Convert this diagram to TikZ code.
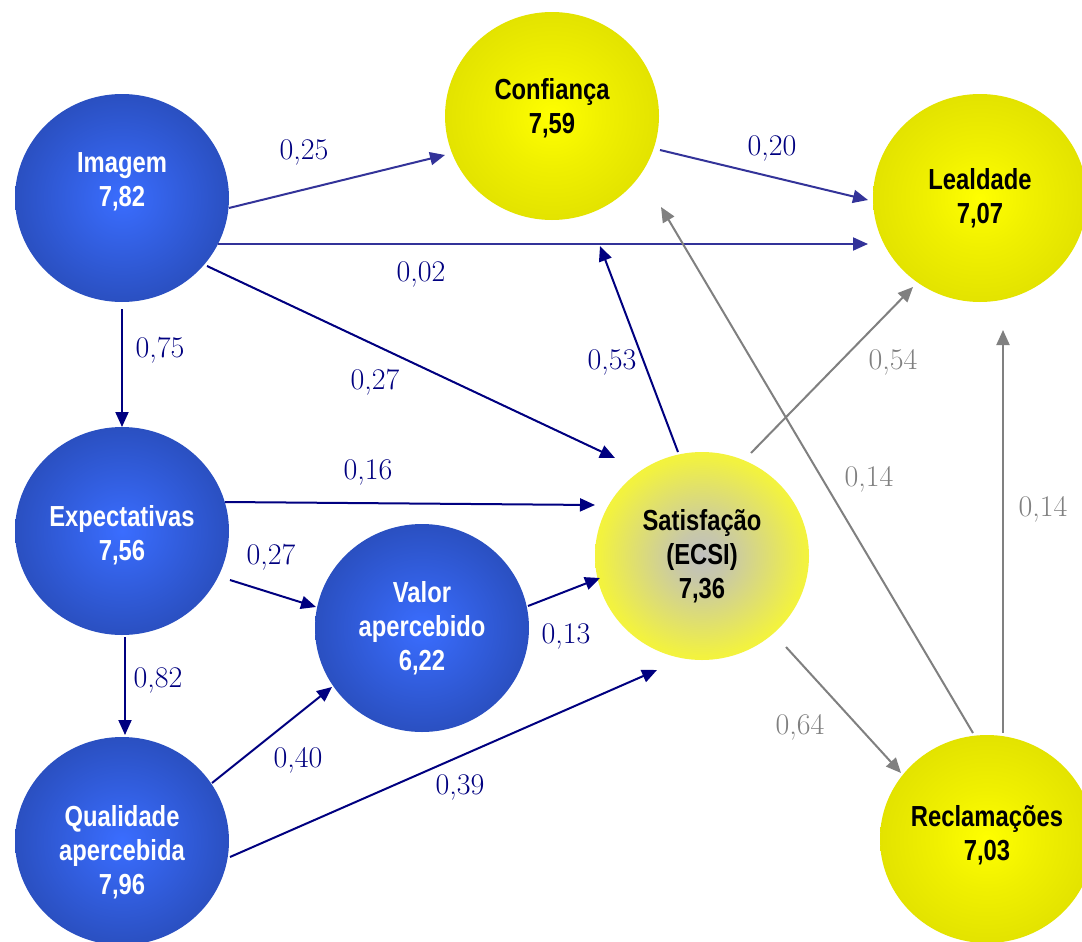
\documentclass[tikz,border=0pt]{standalone}
\usepackage{fontspec}
\newfontfamily\nodefont[FakeStretch=0.82]{Liberation Sans}
\usetikzlibrary{arrows.meta,calc,shapes.geometric}
\definecolor{navyc}{HTML}{000080}
\definecolor{midblue}{HTML}{333399}
\definecolor{grayc}{HTML}{808080}
\definecolor{bluein}{HTML}{3A6DFF}
\definecolor{blueout}{HTML}{2444A8}
\definecolor{yelin}{HTML}{FFFF00}
\definecolor{yelmid}{HTML}{F0F000}
\definecolor{yelout}{HTML}{E0E000}
\definecolor{satin}{HTML}{C0C0C0}
\definecolor{satmid}{HTML}{C8C8A8}
\definecolor{satmid2}{HTML}{F2F240}
\definecolor{satout}{HTML}{FFFF20}
\pgfdeclareradialshading{blueball}{\pgfpoint{0bp}{0bp}}{color(0bp)=(bluein); color(35bp)=(blueout); color(50bp)=(blueout)}
\pgfdeclareradialshading{yelball}{\pgfpoint{0bp}{0bp}}{color(0bp)=(yelin); color(12bp)=(yelmid); color(28bp)=(yelout); color(50bp)=(yelout)}
\pgfdeclareradialshading{satball}{\pgfpoint{0bp}{0bp}}{color(0bp)=(satin); color(6bp)=(satmid); color(24bp)=(satmid2); color(35bp)=(satout); color(50bp)=(satout)}
\begin{document}
\begin{tikzpicture}[x=0.5pt,y=-0.5pt,
  circ/.style={ellipse, minimum width=107pt, minimum height=104pt, inner sep=0pt},
  bluec/.style={circ, shading=blueball},
  yelc/.style={circ, shading=yelball},
  satc/.style={circ, shading=satball},
  txt/.style={font=\nodefont\bfseries\fontsize{14.5}{17}\selectfont, align=center, inner sep=0pt},
  wtxt/.style={txt, text=white},
  ktxt/.style={txt, text=black},
  lab/.style={font=\fontsize{15}{18}\selectfont, inner sep=0pt, text height=9.7pt, text depth=0pt},
  nlab/.style={lab, text=navyc},
  glab/.style={lab, text=grayc},
  arrbase/.style={-{Triangle[length=7.5pt,width=6.5pt]}, line width=1pt},
  narr/.style={arrbase, draw=navyc},
  marr/.style={arrbase, draw=midblue},
  garr/.style={arrbase, draw=grayc},
]
\clip (0,0) rectangle (1082,942);
\fill[white] (0,0) rectangle (1082,942);

% nodes
\node[bluec, label={[wtxt, yshift=8pt]center:Imagem\\7,82}] (img) at (122,198) {};
\node[bluec, label={[wtxt, yshift=-2pt]center:Expectativas\\7,56}] (exp) at (122,531) {};
\node[bluec, label={[wtxt, yshift=-5.5pt]center:Qualidade\\apercebida\\7,96}] (qual) at (122,841) {};
\node[bluec, label={[wtxt]center:Valor\\apercebido\\6,22}] (val) at (422,628) {};
\node[yelc, label={[ktxt, yshift=4pt]center:Confiança\\7,59}] (conf) at (552,116) {};
\node[satc, label={[ktxt]center:Satisfação\\(ECSI)\\7,36}] (sat) at (702,556) {};
\node[yelc, label={[ktxt]center:Lealdade\\7,07}] (lea) at (980,198) {};
\node[yelc, label={[ktxt, yshift=2pt]center:Reclamações\\7,03}] (rec) at (987,839) {};

% connectors
\draw[marr] ($(img)+(107,10)$) -- ($(conf)+(-107,39)$);
\draw[marr] ($(conf)+(108,34)$) -- ($(lea)+(-112,2)$);
\draw[marr] ($(img)+(96,46)$) -- ($(lea)+(-112,46)$);
\draw[narr] ($(img)+(85,68)$) -- ($(sat)+(-87,-98)$);
\draw[narr] ($(img)+(0,111)$) -- ($(exp)+(0,-104)$);
\draw[narr] ($(exp)+(103,-29)$) -- ($(sat)+(-107,-51)$);
\draw[narr] ($(exp)+(108,49)$) -- ($(val)+(-106,-21)$);
\draw[narr] ($(val)+(106,-22)$) -- ($(sat)+(-102,22)$);
\draw[narr] ($(exp)+(3,106)$) -- ($(qual)+(3,-106)$);
\draw[narr] ($(qual)+(90,-58)$) -- ($(val)+(-90,59)$);
\draw[narr] ($(qual)+(108,16)$) -- ($(sat)+(-45,114)$);
\draw[narr] ($(sat)+(-24,-104)$) -- ($(conf)+(48,130)$);
\draw[garr] ($(sat)+(49,-103)$) -- ($(lea)+(-67,89)$);
\draw[garr] ($(rec)+(-14,-106)$) -- ($(conf)+(109,91)$);
\draw[garr] ($(rec)+(16,-106)$) -- ($(lea)+(23,132)$);
\draw[garr] ($(sat)+(84,91)$) -- ($(rec)+(-86,-66)$);

% labels
\node[nlab] (l1) at (304,150) {0,25};
\node[nlab] (l2) at (772,146) {0,20};
\node[nlab] (l3) at (421,272) {0,02};
\node[nlab] (l4) at (375,380) {0,27};
\node[nlab] (l5) at (160,348) {0,75};
\node[nlab] (l6) at (368,470) {0,16};
\node[nlab] (l7) at (271,555) {0,27};
\node[nlab] (l8) at (566,634) {0,13};
\node[nlab] (l9) at (158,678) {0,82};
\node[nlab] (l10) at (298,758) {0,40};
\node[nlab] (l11) at (460,785) {0,39};
\node[nlab] (l12) at (612,360) {0,53};
\node[glab] (l13) at (893,360) {0,54};
\node[glab] (l14) at (869,477) {0,14};
\node[glab] (l15) at (1043,507) {0,14};
\node[glab] (l16) at (800,725) {0,64};
\end{tikzpicture}
\end{document}
